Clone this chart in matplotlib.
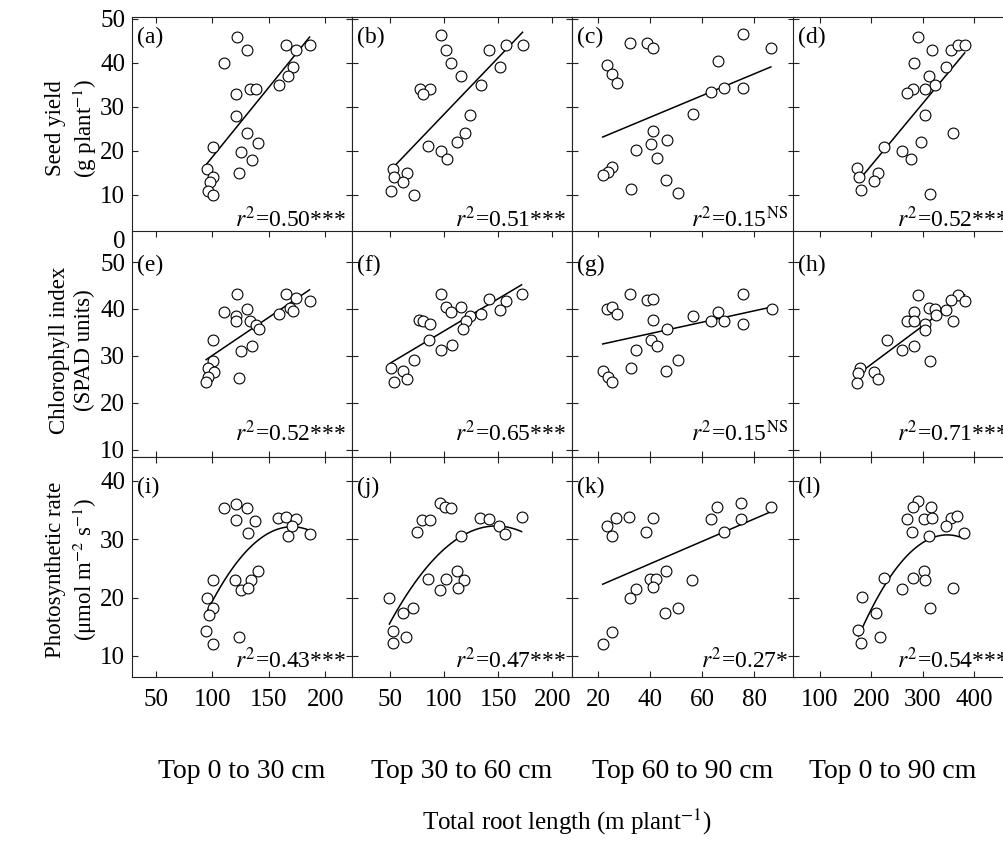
import numpy as np
import matplotlib
matplotlib.use('Agg')
import matplotlib.pyplot as plt

plt.rcParams['font.family'] = ['Liberation Serif', 'DejaVu Serif']
plt.rcParams['mathtext.fontset'] = 'stix'

# ---------------- data ----------------
a_x = [121.8, 131.2, 110.8, 165.5, 174.3, 186.1, 171.4, 167.5, 158.7, 133.0, 138.9, 121.2,
       121.2, 131.2, 140.4, 101.1, 125.6, 135.0, 124.1, 95.2, 101.1, 98.1, 96.1, 101.1]
a_y = [46.0, 43.0, 40.0, 44.2, 43.0, 44.2, 39.1, 37.1, 35.0, 34.0, 34.0, 33.0,
       27.9, 24.0, 21.9, 21.0, 19.8, 17.9, 15.1, 16.0, 14.0, 13.0, 11.0, 10.0]
b_x = [96.8, 101.7, 106.4, 115.6, 141.8, 157.2, 172.6, 151.6, 134.1, 77.7, 87.0, 80.2,
       123.9, 119.3, 112.2, 85.4, 96.8, 102.4, 52.5, 65.4, 53.7, 62.3, 50.6, 72.2]
b_y = [46.3, 43.0, 40.1, 37.1, 43.0, 44.2, 44.2, 39.1, 35.0, 34.0, 34.0, 33.0,
       28.1, 24.0, 22.0, 21.1, 20.0, 18.1, 16.0, 15.0, 14.0, 13.0, 11.0, 10.0]
c_x = [32.4, 38.6, 41.2, 75.5, 86.4, 65.9, 23.2, 25.1, 27.1, 63.2, 68.5, 75.5,
       56.3, 41.2, 40.3, 46.5, 34.5, 42.6, 25.1, 23.8, 21.7, 45.9, 32.6, 50.8]
c_y = [44.5, 44.5, 43.5, 46.5, 43.5, 40.5, 39.5, 37.5, 35.5, 33.4, 34.4, 34.4,
       28.4, 24.5, 21.5, 22.5, 20.3, 18.5, 16.4, 15.3, 14.5, 13.4, 11.4, 10.4]
d_x = [291.2, 318.4, 356.0, 368.9, 381.9, 283.4, 345.0, 312.4, 324.0, 281.9, 304.6, 268.9,
       304.6, 359.7, 225.1, 260.5, 297.6, 278.2, 172.6, 176.5, 212.1, 205.0, 179.1, 313.7]
d_y = [46.0, 43.0, 43.0, 44.0, 44.0, 40.0, 39.0, 37.0, 35.0, 34.1, 34.0, 33.1,
       28.1, 24.1, 21.0, 20.1, 22.1, 18.2, 16.1, 14.2, 15.1, 13.2, 11.1, 10.2]

e_x = [121.8, 165.5, 174.3, 186.1, 168.4, 171.4, 158.7, 110.8, 131.2, 121.2, 121.2, 133.0,
       138.9, 141.0, 101.1, 135.0, 125.6, 101.1, 96.1, 102.0, 96.7, 124.1, 94.6]
e_y = [43.1, 43.1, 42.3, 41.8, 40.3, 39.6, 38.9, 39.4, 40.0, 38.5, 37.5, 37.4,
       36.7, 35.7, 33.4, 32.1, 31.1, 28.9, 27.4, 26.5, 25.6, 25.4, 24.4]
f_x = [96.8, 141.8, 157.2, 171.7, 151.6, 101.7, 106.4, 115.6, 123.9, 134.1, 120.0, 76.8,
       80.8, 87.0, 117.5, 86.0, 107.4, 96.8, 72.2, 50.6, 61.7, 65.4, 53.7]
f_y = [43.1, 42.1, 41.7, 43.1, 39.8, 40.4, 39.4, 40.4, 38.5, 38.9, 37.5, 37.7,
       37.5, 36.8, 35.7, 33.5, 32.3, 31.3, 29.1, 27.5, 26.7, 25.2, 24.4]
g_x = [32.4, 38.6, 41.2, 75.5, 86.7, 23.2, 25.1, 27.1, 41.2, 56.3, 63.2, 65.9,
       68.5, 75.5, 46.5, 40.3, 42.6, 34.5, 50.8, 32.6, 45.9, 21.7, 23.8, 25.1]
g_y = [43.1, 41.9, 42.1, 43.1, 40.1, 39.9, 40.4, 38.9, 37.7, 38.5, 37.5, 39.4,
       37.5, 36.8, 35.7, 33.4, 32.2, 31.3, 29.1, 27.5, 26.7, 26.7, 25.6, 24.4]
h_x = [291.2, 368.9, 356.0, 381.9, 312.4, 324.0, 283.4, 345.0, 325.3, 269.5, 283.7, 304.6,
       359.7, 304.6, 231.4, 283.7, 260.5, 313.7, 177.8, 174.5, 205.0, 213.4, 172.6]
h_y = [42.9, 43.0, 42.0, 41.6, 40.2, 40.0, 39.4, 39.7, 38.8, 37.4, 37.4, 36.8,
       37.4, 35.6, 33.3, 32.1, 31.2, 29.0, 27.5, 26.4, 26.6, 25.2, 24.3]

i_x = [110.8, 120.9, 130.6, 120.9, 138.0, 132.1, 157.8, 165.5, 174.3, 170.5, 167.5, 186.1,
       100.5, 120.3, 134.5, 140.4, 125.6, 131.5, 95.8, 101.1, 97.2, 94.6, 101.1, 123.8]
i_y = [35.3, 36.0, 35.3, 33.3, 33.2, 31.1, 33.6, 33.9, 33.5, 32.2, 30.5, 30.9,
       23.1, 23.0, 23.1, 24.5, 21.3, 21.6, 20.0, 18.2, 17.1, 14.3, 12.1, 13.3]
j_x = [96.2, 100.8, 106.1, 79.3, 87.0, 75.3, 133.2, 141.8, 151.0, 156.3, 171.7, 115.3,
       85.4, 112.2, 101.7, 118.9, 96.2, 112.8, 49.4, 61.7, 71.6, 52.5, 64.8, 53.1]
j_y = [36.3, 35.5, 35.4, 33.3, 33.3, 31.2, 33.6, 33.4, 32.3, 30.9, 33.9, 30.6,
       23.2, 24.5, 23.2, 23.0, 21.3, 21.7, 20.0, 17.3, 18.3, 14.3, 13.3, 12.2]
k_x = [75.1, 65.8, 63.2, 86.4, 75.1, 68.5, 26.7, 31.9, 41.2, 23.2, 25.1, 38.3,
       46.0, 39.9, 42.2, 41.2, 55.9, 34.5, 32.4, 50.8, 45.6, 25.1, 21.7]
k_y = [36.3, 35.5, 33.5, 35.5, 33.5, 31.3, 33.7, 33.9, 33.6, 32.2, 30.6, 31.2,
       24.5, 23.2, 23.2, 21.8, 23.1, 21.4, 20.0, 18.2, 17.3, 14.1, 12.1]
l_x = [291.2, 281.4, 317.1, 268.9, 302.6, 318.4, 356.0, 367.6, 345.0, 280.0, 312.4, 380.6,
       225.1, 281.9, 302.6, 304.6, 260.5, 359.7, 182.8, 208.7, 313.7, 175.0, 179.5, 216.5]
l_y = [36.5, 35.5, 35.5, 33.4, 33.4, 33.6, 33.6, 34.0, 32.3, 31.3, 30.6, 31.0,
       23.3, 23.3, 24.5, 23.0, 21.4, 21.7, 20.1, 17.4, 18.2, 14.4, 12.2, 13.2]

panel_labels = ['(a)', '(b)', '(c)', '(d)', '(e)', '(f)', '(g)', '(h)', '(i)', '(j)', '(k)', '(l)']
r2_labels = [r'$\mathit{r}^{2}$=0.50***', r'$\mathit{r}^{2}$=0.51***', r'$\mathit{r}^{2}$=0.15$^{\mathrm{NS}}$',
             r'$\mathit{r}^{2}$=0.52***',
             r'$\mathit{r}^{2}$=0.52***', r'$\mathit{r}^{2}$=0.65***', r'$\mathit{r}^{2}$=0.15$^{\mathrm{NS}}$',
             r'$\mathit{r}^{2}$=0.71***',
             r'$\mathit{r}^{2}$=0.43***', r'$\mathit{r}^{2}$=0.47***', r'$\mathit{r}^{2}$=0.27*',
             r'$\mathit{r}^{2}$=0.54***']
fit_degree = [1, 1, 1, 1, 1, 1, 1, 1, 2, 2, 1, 2]

col_titles = ['Top 0 to 30 cm', 'Top 30 to 60 cm', 'Top 60 to 90 cm', 'Top 0 to 90 cm']
col_xticks = [[50, 100, 150, 200], [50, 100, 150, 200], [20, 40, 60, 80], [100, 200, 300, 400]]
row_yticks = [[0, 10, 20, 30, 40, 50], [10, 20, 30, 40, 50], [10, 20, 30, 40]]
row_ylabels = ['Seed yield\n(g plant$^{-1}$)', 'Chlorophyll index\n(SPAD units)',
               'Photosynthetic rate\n(μmol m$^{-2}$ s$^{-1}$)']
xlabel = 'Total root length (m plant$^{-1}$)'

xs = [a_x, b_x, c_x, d_x, e_x, f_x, g_x, h_x, i_x, j_x, k_x, l_x]
ys = [a_y, b_y, c_y, d_y, e_y, f_y, g_y, h_y, i_y, j_y, k_y, l_y]

# ---------------- layout (pixels) ----------------
W, H = 1004, 841
fig = plt.figure(figsize=(W / 100, H / 100), dpi=100)

col_left = [132, 352, 572, 793]
col_right = [352, 572, 794, 1014]
row_top = [17, 231, 457]
row_bottom = [239, 457, 677]
col_xlim = [(29.0, 223.7), (14.9, 218.3), (9.9, 95.3), (47.4, 478.0)]
row_ylim = [(0.0, 50.45), (8.5, 56.6), (6.4, 44.1)]
r2_base = [12, 16, 9]       # px above the bottom frame
lab_top = [10, 24, 20]      # px below the top frame

px = 0.72  # points per pixel at 100 dpi

for r in range(3):
    for c in range(4):
        k = r * 4 + c
        ax = fig.add_axes([col_left[c] / W, 1 - row_bottom[r] / H,
                           (col_right[c] - col_left[c]) / W,
                           (row_bottom[r] - row_top[r]) / H])
        ax.set_facecolor('white')
        x = np.asarray(xs[k]); y = np.asarray(ys[k])
        coef = np.polyfit(x, y, fit_degree[k])
        xx = np.linspace(x.min(), x.max(), 100)
        ax.plot(xx, np.polyval(coef, xx), color='black', lw=1.1, zorder=2)
        ax.plot(x, y, 'o', ms=7.8, mfc='white', mec='black', mew=0.8, zorder=3)
        ax.set_xlim(*col_xlim[c]); ax.set_ylim(*row_ylim[r])
        ax.set_xticks(col_xticks[c]); ax.set_yticks(row_yticks[r])
        ax.tick_params(direction='in', top=True, right=True, length=4.5, width=0.8,
                       labelsize=18, color='#222222',
                       labelleft=(c == 0), labelbottom=(r == 2))
        ax.tick_params(axis='x', pad=9)
        ax.tick_params(axis='y', pad=5)
        for s in ax.spines.values():
            s.set_linewidth(0.8); s.set_color('#222222')
        ax.annotate(panel_labels[k], xy=(0, 1), xycoords='axes fraction',
                    xytext=(5 * px, -lab_top[r] * px), textcoords='offset points',
                    ha='left', va='top', fontsize=17)
        ax.annotate(r2_labels[k], xy=(1, 0), xycoords='axes fraction',
                    xytext=(-6 * px, r2_base[r] * px), textcoords='offset points',
                    ha='right', va='baseline', fontsize=17)

# row labels
row_centers = [128, 350, 570]
for r in range(3):
    fig.text(72 / W, 1 - row_centers[r] / H, row_ylabels[r], rotation=90,
             ha='center', va='center', fontsize=16.5, linespacing=1.2, multialignment='center')

# column titles
for c in range(4):
    fig.text((col_left[c] + col_right[c] - (22 if c == 3 else 0)) / 2 / W, 1 - 771 / H,
             col_titles[c], ha='center', va='center', fontsize=20)

fig.text(567 / W, 1 - 822 / H, xlabel, ha='center', va='center', fontsize=18)

fig.savefig('out.png', dpi=100)
